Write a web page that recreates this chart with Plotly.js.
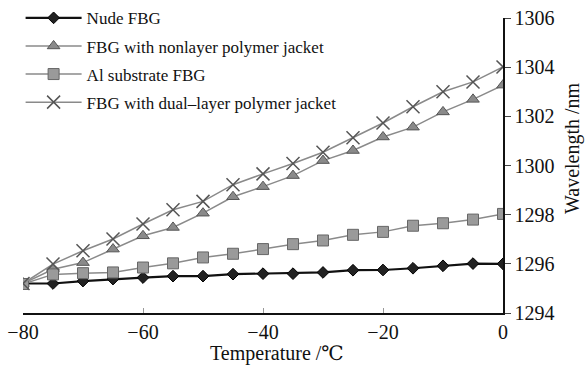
<!DOCTYPE html>
<html>
<head>
<meta charset="utf-8">
<script src="https://cdn.plot.ly/plotly-3.0.1.min.js"></script>
<style>html,body{margin:0;padding:0;background:#fff;}#chart{width:585px;height:365px;}</style>
</head>
<body>
<div id="chart"></div>
<script>
const temperature = [-80,-75,-70,-65,-60,-55,-50,-45,-40,-35,-30,-25,-20,-15,-10,-5,0];
const seriesNames = ['Nude FBG','FBG with nonlayer polymer jacket','Al substrate FBG','FBG with dual\u2013layer polymer jacket'];
const nudeFBG = [1295.2,1295.2,1295.3,1295.38,1295.44,1295.5,1295.5,1295.58,1295.6,1295.6,1295.65,1295.74,1295.75,1295.82,1295.92,1296.01,1296.0];
const nonlayerJacket = [1295.2,1295.78,1296.05,1296.6,1297.14,1297.48,1298.06,1298.73,1299.14,1299.59,1300.2,1300.61,1301.16,1301.56,1302.18,1302.69,1303.27];
const alSubstrate = [1295.18,1295.57,1295.62,1295.65,1295.85,1296.02,1296.26,1296.41,1296.6,1296.8,1296.95,1297.18,1297.3,1297.55,1297.65,1297.8,1298.03];
const dualLayerJacket = [1295.2,1295.99,1296.53,1297.01,1297.62,1298.2,1298.54,1299.22,1299.66,1300.08,1300.54,1301.13,1301.73,1302.39,1303.0,1303.4,1304.01];
const xTicks = [-80,-60,-40,-20,0];
const yTicks = [1294,1296,1298,1300,1302,1304,1306];
const xTitle = 'Temperature /\u2103';
const yTitle = 'Wavelength /nm';

const serif = '"Liberation Serif", "DejaVu Serif", serif';
const gray = '#8a8a8a';

const traces = [
  {x: temperature, y: nudeFBG, name: seriesNames[0], legendgroup:'a', mode:'lines+markers',
   line:{color:'#111', width:2.2}, marker:{symbol:'diamond', size:9, color:'#222', line:{color:'#000', width:1}}},
  {x: temperature, y: nonlayerJacket, name: seriesNames[1], legendgroup:'b', mode:'lines+markers',
   line:{color:gray, width:1.5}, marker:{symbol:'triangle-up', size:11, color:'#8a8a8a', line:{color:'#555', width:1}}},
  {x: temperature, y: alSubstrate, name: seriesNames[2], legendgroup:'c', mode:'lines+markers',
   line:{color:gray, width:1.5}, marker:{symbol:'square', size:11, color:'#9a9a9a', line:{color:'#666', width:1}}},
  {x: temperature, y: dualLayerJacket, name: seriesNames[3], legendgroup:'d', mode:'lines+markers',
   line:{color:gray, width:1.5}, marker:{symbol:'x-thin', size:13, color:'#555', line:{color:'#555', width:1.5}}}
];

const layout = {
  width:585, height:365,
  margin:{l:23, r:82, t:18, b:52, pad:0, autoexpand:false},
  paper_bgcolor:'#fff', plot_bgcolor:'#fff',
  font:{family:serif, color:'#111', size:19},
  showlegend:true,
  legend:{x:-0.005, y:1.06, xanchor:'left', yanchor:'top', bgcolor:'rgba(0,0,0,0)',
    font:{family:serif, size:17, color:'#111'}, tracegroupgap:3, itemwidth:56},
  xaxis:{range:[-80,0], tickvals:xTicks, ticks:'inside', ticklen:5, tickcolor:'#999',
    showline:true, linecolor:'#111', linewidth:1.5, showgrid:false, zeroline:false,
    tickfont:{family:serif, size:20}},
  yaxis:{range:[1294,1306], tickvals:yTicks, side:'right', ticks:'outside', ticklen:6, tickcolor:'#444',
    showline:true, linecolor:'#111', linewidth:1.5, showgrid:false, zeroline:false,
    tickfont:{family:serif, size:20}},
  annotations:[
    {text:xTitle, xref:'paper', yref:'paper', x:(277-23)/480, y:(313-353)/295, xanchor:'center', yanchor:'middle',
     borderpad:0, showarrow:false, font:{family:serif, size:20, color:'#111'}},
    {text:yTitle, xref:'paper', yref:'paper', x:(572-23)/480, y:(313-148)/295, xanchor:'center', yanchor:'middle',
     borderpad:0, textangle:-90, showarrow:false, font:{family:serif, size:20, color:'#111'}}
  ]
};

Plotly.newPlot('chart', traces, layout, {staticPlot:true, displayModeBar:false});
</script>
</body>
</html>
